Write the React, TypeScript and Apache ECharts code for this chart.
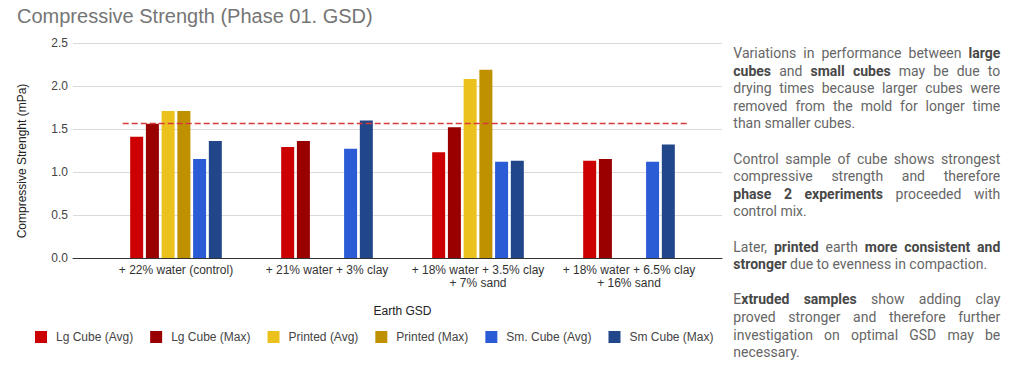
import React, { useEffect, useRef } from "react";
import * as echarts from "echarts";

// ---------- data ----------
const chartTitle = "Compressive Strength (Phase 01. GSD)";
const xAxisTitle = "Earth GSD";
const yAxisTitle = "Compressive Strenght (mPa)";
const categories = [
  "+ 22% water (control)",
  "+ 21% water + 3% clay",
  "+ 18% water + 3.5% clay\n+ 7% sand",
  "+ 18% water + 6.5% clay\n+ 16% sand",
];
const seriesNames = [
  "Lg Cube (Avg)",
  "Lg Cube (Max)",
  "Printed (Avg)",
  "Printed (Max)",
  "Sm. Cube (Avg)",
  "Sm Cube (Max)",
];
const lgCubeAvg = [1.41, 1.29, 1.23, 1.13];
const lgCubeMax = [1.56, 1.36, 1.52, 1.15];
const printedAvg = [1.71, null, 2.08, null];
const printedMax = [1.71, null, 2.19, null];
const smCubeAvg = [1.15, 1.27, 1.12, 1.12];
const smCubeMax = [1.36, 1.6, 1.13, 1.32];
const controlReference = 1.57;
const yTicks = [0, 0.5, 1.0, 1.5, 2.0, 2.5];

const notes = [
  [
    "Variations in performance between **large**",
    "**cubes** and **small cubes** may be due to",
    "drying times because larger cubes were",
    "removed from the mold for longer time",
    "than smaller cubes.",
  ],
  [
    "Control sample of cube shows strongest",
    "compressive strength and therefore",
    "**phase 2 experiments** proceeded with",
    "control mix.",
  ],
  [
    "Later, **printed** earth **more consistent and**",
    "**stronger** due to evenness in compaction.",
  ],
  [
    "E**xtruded samples** show adding clay",
    "proved stronger and therefore further",
    "investigation on optimal GSD may be",
    "necessary.",
  ],
];

// ---------- styles ----------
const palette = ["#cc0000", "#990000", "#ebc11e", "#bf9000", "#2b5bd5", "#22468a"];
const FONT = "'Liberation Sans', Arial, sans-serif";
const NOTE_FONT = "Roboto";

type Seg = { t: string; b: boolean };

function parseLine(src: string): Seg[][] {
  const words: Seg[][] = [];
  let bold = false;
  let cur: Seg[] = [];
  let buf = "";
  const flush = () => {
    if (buf) {
      cur.push({ t: buf, b: bold });
      buf = "";
    }
  };
  for (let i = 0; i < src.length; i++) {
    if (src.startsWith("**", i)) {
      flush();
      bold = !bold;
      i++;
      continue;
    }
    const ch = src[i];
    if (ch === " ") {
      flush();
      if (cur.length) words.push(cur);
      cur = [];
    } else buf += ch;
  }
  flush();
  if (cur.length) words.push(cur);
  return words;
}

function buildNotes(): any[] {
  const canvas = document.createElement("canvas");
  const ctx = canvas.getContext("2d") as CanvasRenderingContext2D;
  const measure = (t: string, b: boolean) => {
    ctx.font = `normal ${b ? "bold" : "normal"} 14px ${NOTE_FONT}`;
    return ctx.measureText(t).width;
  };
  const left = 733.3;
  const width = 267;
  const firstY = 53;
  const lh = 17.6;
  const out: any[] = [];
  let k = 0;
  notes.forEach((para) => {
    para.forEach((line, li) => {
      const words = parseLine(line);
      const justify = li < para.length - 1;
      const total = words.reduce(
        (s, w) => s + w.reduce((a, seg) => a + measure(seg.t, seg.b), 0),
        0
      );
      const gap = justify && words.length > 1 ? (width - total) / (words.length - 1) : measure(" ", false);
      const text = words
        .map((w) => w.map((s) => `{${s.b ? "b" : "r"}|${s.t}}`).join(""))
        .join("{g| }");
      out.push({
        type: "text",
        x: left,
        y: firstY + lh * k,
        silent: true,
        style: {
          text,
          align: "left",
          verticalAlign: "middle",
          rich: {
            r: { fontFamily: NOTE_FONT, fontSize: 14, fill: "#666666" },
            b: { fontFamily: NOTE_FONT, fontSize: 14, fontWeight: "bold", fill: "#484848" },
            g: { fontFamily: NOTE_FONT, fontSize: 14, width: gap },
          },
        },
      });
      k++;
    });
    k++;
  });
  return out;
}

export default function App() {
  const ref = useRef<HTMLDivElement>(null);
  useEffect(() => {
    if (!ref.current) return;
    const chart = echarts.init(ref.current, null, { renderer: "svg" });
    const seriesData = [lgCubeAvg, lgCubeMax, printedAvg, printedMax, smCubeAvg, smCubeMax];
    const option: any = {
      animation: false,
      backgroundColor: "#ffffff",
      textStyle: { fontFamily: FONT },
      grid: [
        { left: 73, top: 43, width: 649, height: 215 },
        { left: 100.5, top: 43, width: 604, height: 215 },
      ],
      xAxis: [
        {
          gridIndex: 0,
          type: "category",
          data: [""],
          axisLine: { show: true, lineStyle: { color: "#333333", width: 1 } },
          axisTick: { show: false },
          axisLabel: { show: false },
          splitLine: { show: false },
        },
        {
          gridIndex: 1,
          type: "category",
          data: categories,
          axisLine: { show: false },
          axisTick: { show: false },
          axisLabel: {
            interval: 0,
            margin: 6,
            fontSize: 12,
            lineHeight: 12.5,
            color: "#333333",
            fontFamily: FONT,
          },
          name: xAxisTitle,
          nameLocation: "middle",
          nameGap: 47,
          nameTextStyle: { fontSize: 12, color: "#222222", fontFamily: FONT },
        },
      ],
      yAxis: [
        {
          gridIndex: 0,
          type: "value",
          min: yTicks[0],
          max: yTicks[yTicks.length - 1],
          interval: yTicks[1] - yTicks[0],
          axisLine: { show: false },
          axisTick: { show: false },
          axisLabel: {
            margin: 5,
            fontSize: 12,
            color: "#444444",
            fontFamily: FONT,
            formatter: (v: number) => v.toFixed(1),
          },
          splitLine: { lineStyle: { color: "#dadada", width: 1 } },
        },
        {
          gridIndex: 1,
          type: "value",
          min: yTicks[0],
          max: yTicks[yTicks.length - 1],
          show: false,
          splitLine: { show: false },
        },
      ],
      legend: {
        data: seriesNames,
        left: 35,
        top: 331,
        padding: 0,
        icon: "rect",
        itemWidth: 12,
        itemHeight: 12,
        itemGap: 17,
        textStyle: { fontSize: 12, color: "#444444", fontFamily: FONT, padding: [0, 0, 0, 4] },
      },
      series: seriesNames.map((name, i) => ({
        type: "bar",
        name,
        xAxisIndex: 1,
        yAxisIndex: 1,
        data: seriesData[i],
        barWidth: 13,
        barGap: "21%",
        itemStyle: { color: palette[i] },
        ...(i === 0
          ? {
              markLine: {
                silent: true,
                symbol: "none",
                label: { show: false },
                lineStyle: { color: "#d63a3a", type: [6, 3], width: 1.3 },
                data: [[{ x: 122.7, yAxis: controlReference }, { x: 688, yAxis: controlReference }]],
              },
            }
          : {}),
      })),
      graphic: [
        {
          type: "text",
          x: 17,
          y: 16,
          silent: true,
          style: {
            text: chartTitle,
            fontSize: 20,
            fontFamily: FONT,
            fill: "#757575",
            align: "left",
            verticalAlign: "middle",
          },
        },
        {
          type: "text",
          x: 22,
          y: 161,
          rotation: Math.PI / 2,
          silent: true,
          style: {
            text: yAxisTitle,
            fontSize: 12,
            fontFamily: FONT,
            fill: "#222222",
            align: "center",
            verticalAlign: "middle",
          },
        },
        ...buildNotes(),
      ],
    };
    chart.setOption(option);
    return () => chart.dispose();
  }, []);
  return (
    <div
      ref={ref}
      style={{ position: "absolute", left: 0, top: 0, width: 1024, height: 378, background: "#fff" }}
    />
  );
}
